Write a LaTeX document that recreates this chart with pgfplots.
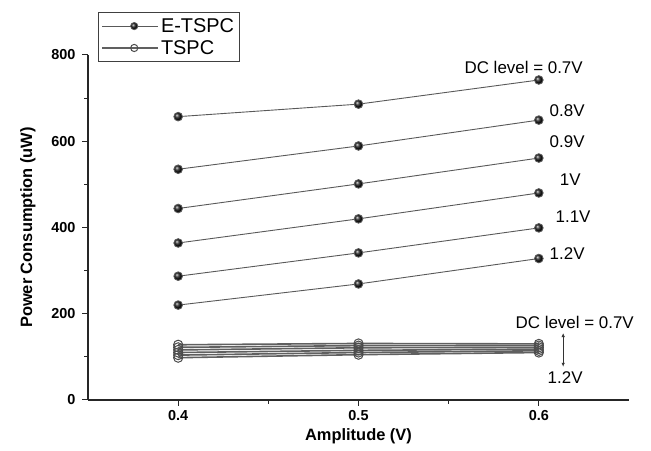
\documentclass[border=0pt]{standalone}
\usepackage{pgfplots}
\pgfplotsset{compat=1.18}
\usepackage{fontspec}
\setmainfont{Liberation Sans}
\usetikzlibrary{arrows.meta}
\newcommand\tickfont{\fontsize{14.5}{16}\selectfont\bfseries}
\newcommand\labfont{\fontsize{16.5}{18}\selectfont\bfseries}
\newcommand\legfont{\fontsize{20}{22}\selectfont}
\newcommand\annfont{\fontsize{17}{19}\selectfont}
\begin{document}
\begin{tikzpicture}[x=1bp,y=1bp]
\begin{axis}[
  scale only axis, width=541bp, height=345bp,
  xmin=0.35, xmax=0.65, ymin=0, ymax=800,
  axis x line=bottom, axis y line=left,
  axis line style={-, line width=1.1bp, black!85},
  xtick={0.4,0.5,0.6}, ytick={0,200,400,600,800},
  minor x tick num=1, minor y tick num=1,
  tick align=outside,
  major tick length=6bp, minor tick length=4bp,
  every tick/.style={black!85, line width=1bp},
  /pgf/number format/assume math mode=true,
  xticklabel style={font=\tickfont, /pgf/number format/fixed, /pgf/number format/precision=1, yshift=-1bp},
  yticklabel style={font=\tickfont, xshift=-3bp},
  xlabel={Amplitude (V)}, ylabel={Power Consumption (uW)},
  xlabel style={font=\labfont, yshift=-1bp},
  ylabel style={font=\labfont, yshift=9bp},
  clip=false,
  legend style={at={(rel axis cs:0.0185,1.1246)}, anchor=north west,
     draw=black!75, line width=0.8bp, font=\legfont,
     inner xsep=3bp, inner ysep=4bp, row sep=2.5bp, cells={anchor=west}},
  legend cell align=left,
  legend image code/.code={
     \path (0bp,0bp) -- (56bp,0bp);
     \draw[line width=0.8bp, mark repeat=2,mark phase=2,mark size=3.6bp] plot coordinates {(9bp,0bp) (32bp,0bp) (55bp,0bp)};},
]
\path (rel axis cs:-0.1627,-0.1478) rectangle (rel axis cs:1.0407,1.1594);
\pgfplotsset{etspc/.style={gray!70!black, line width=0.9bp, mark=ball, mark size=4.3bp, mark options={ball color=black!90}}}
\pgfplotsset{tspc/.style={gray!75!black, line width=1.6bp, mark=o, mark size=4.6bp, mark options={fill=white, draw=gray!60!black, line width=1bp}}}
\addplot[etspc] coordinates {(0.4,657) (0.5,686) (0.6,742)};
\addlegendentry{E-TSPC}
\addplot[tspc] coordinates {(0.4,128) (0.5,131) (0.6,130)};
\addlegendentry{TSPC}
\addplot[etspc,forget plot] coordinates {(0.4,535) (0.5,589) (0.6,649)};
\addplot[etspc,forget plot] coordinates {(0.4,444) (0.5,501) (0.6,561)};
\addplot[etspc,forget plot] coordinates {(0.4,364) (0.5,420) (0.6,480)};
\addplot[etspc,forget plot] coordinates {(0.4,287) (0.5,341) (0.6,399)};
\addplot[etspc,forget plot] coordinates {(0.4,220) (0.5,269) (0.6,328)};
\addplot[tspc,forget plot] coordinates {(0.4,122) (0.5,126) (0.6,126)};
\addplot[tspc,forget plot] coordinates {(0.4,116) (0.5,121) (0.6,122)};
\addplot[tspc,forget plot] coordinates {(0.4,110) (0.5,115) (0.6,118)};
\addplot[tspc,forget plot] coordinates {(0.4,104) (0.5,110) (0.6,114)};
\addplot[tspc,forget plot] coordinates {(0.4,98) (0.5,105) (0.6,110)};
\begin{scope}[font=\annfont]
\node[anchor=east] at (axis cs:0.6263,770) {DC level = 0.7V};
\node[anchor=west] at (axis cs:0.6041,672) {0.8V};
\node[anchor=west] at (axis cs:0.6041,598) {0.9V};
\node[anchor=west] at (axis cs:0.6097,510) {1V};
\node[anchor=west] at (axis cs:0.6074,424) {1.1V};
\node[anchor=west] at (axis cs:0.6041,339) {1.2V};
\node[anchor=east] at (axis cs:0.6546,179) {DC level = 0.7V};
\node at (axis cs:0.6146,53) {1.2V};
\draw[{Latex[length=4bp,width=3.5bp]}-{Latex[length=4bp,width=3.5bp]}, line width=0.6bp, black!80] (axis cs:0.6135,155) -- (axis cs:0.6135,77);
\end{scope}
\end{axis}
\end{tikzpicture}
\end{document}
